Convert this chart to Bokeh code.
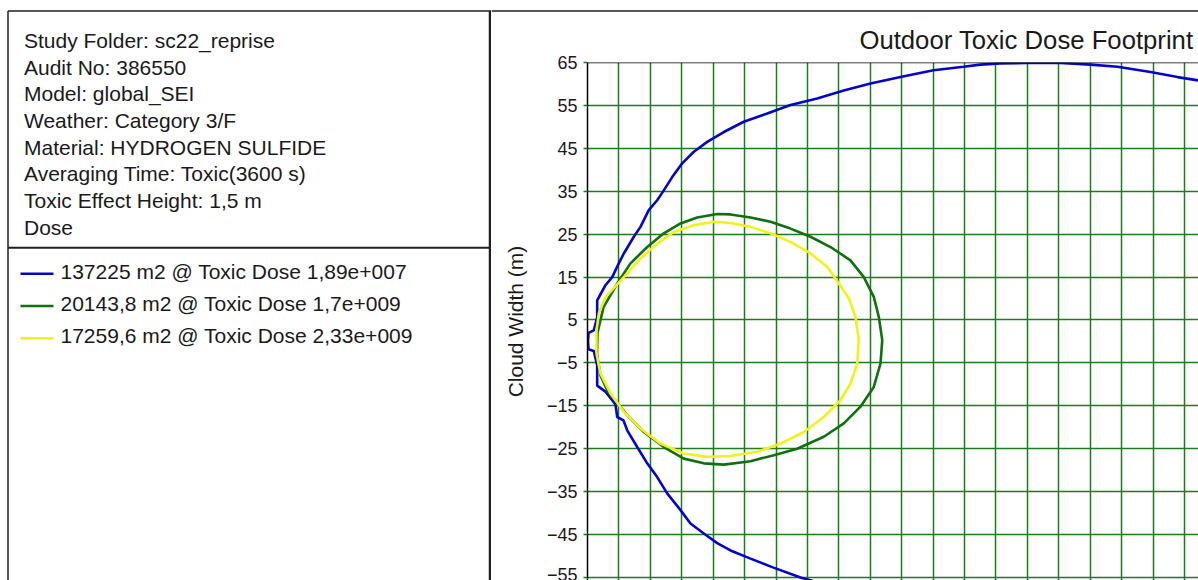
from bokeh.plotting import figure
from bokeh.layouts import row, column
from bokeh.models import Range1d, FixedTicker, Span
from bokeh.embed import file_html
from bokeh.resources import INLINE
from bokeh.core.properties import value

FONT = "Liberation Sans"
TXT = "#1a1a1a"

# ---------------- data ----------------
info_lines = [
    "Study Folder: sc22_reprise",
    "Audit No: 386550",
    "Model: global_SEI",
    "Weather: Category 3/F",
    "Material: HYDROGEN SULFIDE",
    "Averaging Time: Toxic(3600 s)",
    "Toxic Effect Height: 1,5 m",
    "Dose",
]

series_labels = [
    "137225 m2 @ Toxic Dose 1,89e+007",
    "20143,8 m2 @ Toxic Dose 1,7e+009",
    "17259,6 m2 @ Toxic Dose 2,33e+009",
]
series_colors = ["#0505c8", "#10700f", "#f2f21a"]

chart_title = "Outdoor Toxic Dose Footprint"
y_axis_label = "Cloud Width (m)"
y_ticks = [65, 55, 45, 35, 25, 15, 5, -5, -15, -25, -35, -45, -55, -65]
x_grid_ticks = [0, 50, 100, 150, 200, 250, 300, 350, 400, 450, 500,
                550, 600, 650, 700, 750, 800, 850, 900, 950, 1000]

# 1.89e+007 dose contour (downwind distance m, cloud width m)
blue_x = [386.7, 339.0, 296.0, 259.4, 227.6, 206.4, 184.6, 163.9, 148.0, 126.8,
          110.9, 95.0, 79.1, 63.2, 57.3, 47.3, 44.6, 28.6, 15.4, 15.4,
          10.0, 1.6, 0.8, 1.6, 10.0, 15.4, 15.4, 20.7, 28.6, 39.3,
          49.8, 57.8, 73.7, 84.3, 97.5, 110.9, 121.4, 134.8, 150.7, 169.2,
          190.5, 216.9, 248.7, 286.0, 323.0, 365.5, 407.8, 450.3, 498.1, 550.6,
          598.3, 625.4, 657.2, 700.2, 752.7, 800.4, 843.4, 895.9, 938.9, 969.1,
          1000.0]
blue_y = [-57.0, -55.0, -52.7, -50.6, -48.7, -47.0, -44.7, -42.4, -39.3, -35.4,
          -31.6, -28.4, -24.6, -20.7, -18.4, -17.6, -14.7, -11.7, -10.3, -5.6,
          -2.2, -1.8, 0.0, 2.0, 2.6, 5.6, 9.6, 11.0, 13.1, 15.0,
          18.2, 20.5, 24.4, 26.7, 30.6, 32.9, 35.2, 38.3, 41.5, 44.2,
          46.5, 48.8, 51.2, 53.1, 55.1, 56.6, 58.5, 60.1, 61.6, 63.2,
          64.0, 64.5, 64.8, 64.9, 64.9, 64.5, 64.0, 62.8, 61.6, 60.9,
          60.0]

# 1.7e+009 dose contour
green_x = [15.1, 15.9, 25.5, 47.3, 68.4, 95.0, 121.4, 148.0, 174.6, 206.4,
           227.6, 259.4, 291.2, 323.0, 354.9, 386.7, 418.5, 439.7, 455.6, 463.6,
           469.0, 466.3, 455.6, 434.4, 407.9, 376.0, 333.7, 296.5, 259.4, 216.9,
           185.1, 153.2, 121.4, 89.6, 63.2, 41.9, 31.8, 20.7, 15.1]
green_y = [-3.0, 2.0, 8.0, 13.5, 18.2, 22.0, 25.2, 27.5, 28.9, 29.7,
           29.6, 28.9, 27.9, 26.3, 24.4, 22.0, 18.9, 15.0, 10.4, 5.7,
           0.3, -5.1, -10.6, -15.2, -19.1, -22.2, -25.0, -26.5, -27.9, -28.7,
           -28.4, -27.3, -24.6, -21.1, -17.2, -13.3, -11.5, -8.0, -3.0]

# 2.33e+009 dose contour
yellow_x = [14.3, 14.3, 18.0, 28.0, 57.8, 84.3, 110.9, 137.3, 169.2, 201.0,
            227.6, 259.4, 291.2, 323.0, 354.9, 381.4, 399.9, 416.0, 426.5, 431.7,
            429.2, 418.5, 402.6, 376.0, 344.2, 307.1, 270.0, 227.6, 190.5, 153.2,
            116.2, 84.3, 57.8, 36.6, 20.7, 14.3]
yellow_y = [-2.8, 2.6, 6.5, 10.2, 15.0, 19.3, 22.8, 25.5, 27.1, 27.9,
            27.6, 26.7, 25.2, 23.2, 20.5, 17.4, 13.5, 10.0, 5.7, 0.3,
            -5.1, -9.8, -13.7, -17.6, -21.1, -23.8, -25.7, -26.7, -26.9, -26.1,
            -23.8, -20.3, -16.4, -12.1, -7.5, -2.8]

series_x = [blue_x, green_x, yellow_x]
series_y = [blue_y, green_y, yellow_y]

GRID = "#1c7c1c"
BORDER = "#202020"

# ---------------- left info / legend panel ----------------
LW, H = 491, 580
left = figure(width=LW, height=H, x_range=Range1d(0, LW), y_range=Range1d(H, 0),
              output_backend="svg", toolbar_location=None, min_border=0,
              x_axis_location=None, y_axis_location=None, outline_line_color=None)
left.grid.visible = False
left.segment(x0=[7.5, 7.5, 7.5, 489.5], y0=[10.5, 247.3, 10.5, 10.5],
             x1=[LW, 489.5, 7.5, 489.5], y1=[10.5, 247.3, H, H],
             line_color=BORDER, line_width=[1.5, 2.0, 1.5, 2.5])

info_y = [40.0 + 26.65 * i for i in range(len(info_lines))]
left.text(x=23.5, y=info_y, text=info_lines, text_font=value(FONT),
          text_font_size="21px", text_color=TXT, text_baseline="middle",
          text_align="left")

leg_y = [273.3 + 32.2 * i for i in range(len(series_labels))]
left.segment(x0=20, x1=53, y0=leg_y, y1=leg_y, line_color=series_colors,
             line_width=2.5)
left.text(x=60, y=[v - 2.8 for v in leg_y], text=series_labels,
          text_font=value(FONT), text_font_size="21px", text_color=TXT,
          text_baseline="middle", text_align="left")

# ---------------- top border strip of chart panel ----------------
RW = 707
strip = figure(width=RW, height=12, x_range=Range1d(0, RW), y_range=Range1d(12, 0),
               output_backend="svg", toolbar_location=None, min_border=0,
               x_axis_location=None, y_axis_location=None, outline_line_color=None)
strip.frame_align = False
strip.grid.visible = False
strip.segment(x0=[0], y0=[10.5], x1=[RW], y1=[10.5], line_color=BORDER, line_width=1.5)

# ---------------- chart ----------------
p = figure(width=RW, height=568, x_range=Range1d(0, 972.3), y_range=Range1d(-55.7, 65),
           output_backend="svg", toolbar_location=None, x_axis_location=None,
           min_border_left=96, min_border_right=0, min_border_top=50,
           min_border_bottom=0, outline_line_color=None, title=chart_title)
p.frame_align = False

p.title.align = "right"
p.title.offset = 5
p.title.text_font = FONT
p.title.text_font_size = "25.7px"
p.title.text_font_style = "normal"
p.title.text_color = TXT
p.title.standoff = 17

p.xgrid.ticker = FixedTicker(ticks=x_grid_ticks)
p.grid.grid_line_color = GRID
p.grid.grid_line_width = 1.5
p.grid.grid_line_alpha = 1.0

ax = p.yaxis[0]
ax.ticker = FixedTicker(ticks=y_ticks)
ax.major_label_text_font = FONT
ax.major_label_text_font_size = "18px"
ax.major_label_text_color = TXT
ax.major_label_standoff = 6
ax.major_tick_out = 4
ax.major_tick_in = 0
ax.major_tick_line_color = GRID
ax.major_tick_line_width = 1.5
ax.minor_tick_line_color = None
ax.axis_line_color = "black"
ax.axis_line_width = 1.5
ax.axis_label = y_axis_label
ax.axis_label_text_font = FONT
ax.axis_label_text_font_size = "21px"
ax.axis_label_text_font_style = "normal"
ax.axis_label_text_color = TXT
ax.axis_label_standoff = 17

p.add_layout(Span(location=65, dimension="width", line_color="black", line_width=1.5))

for xs, ys, col in zip(series_x, series_y, series_colors):
    p.line(xs, ys, line_color=col, line_width=2.6)

layout = row(left, column(strip, p))
open("out.html", "w").write(file_html(layout, INLINE))
